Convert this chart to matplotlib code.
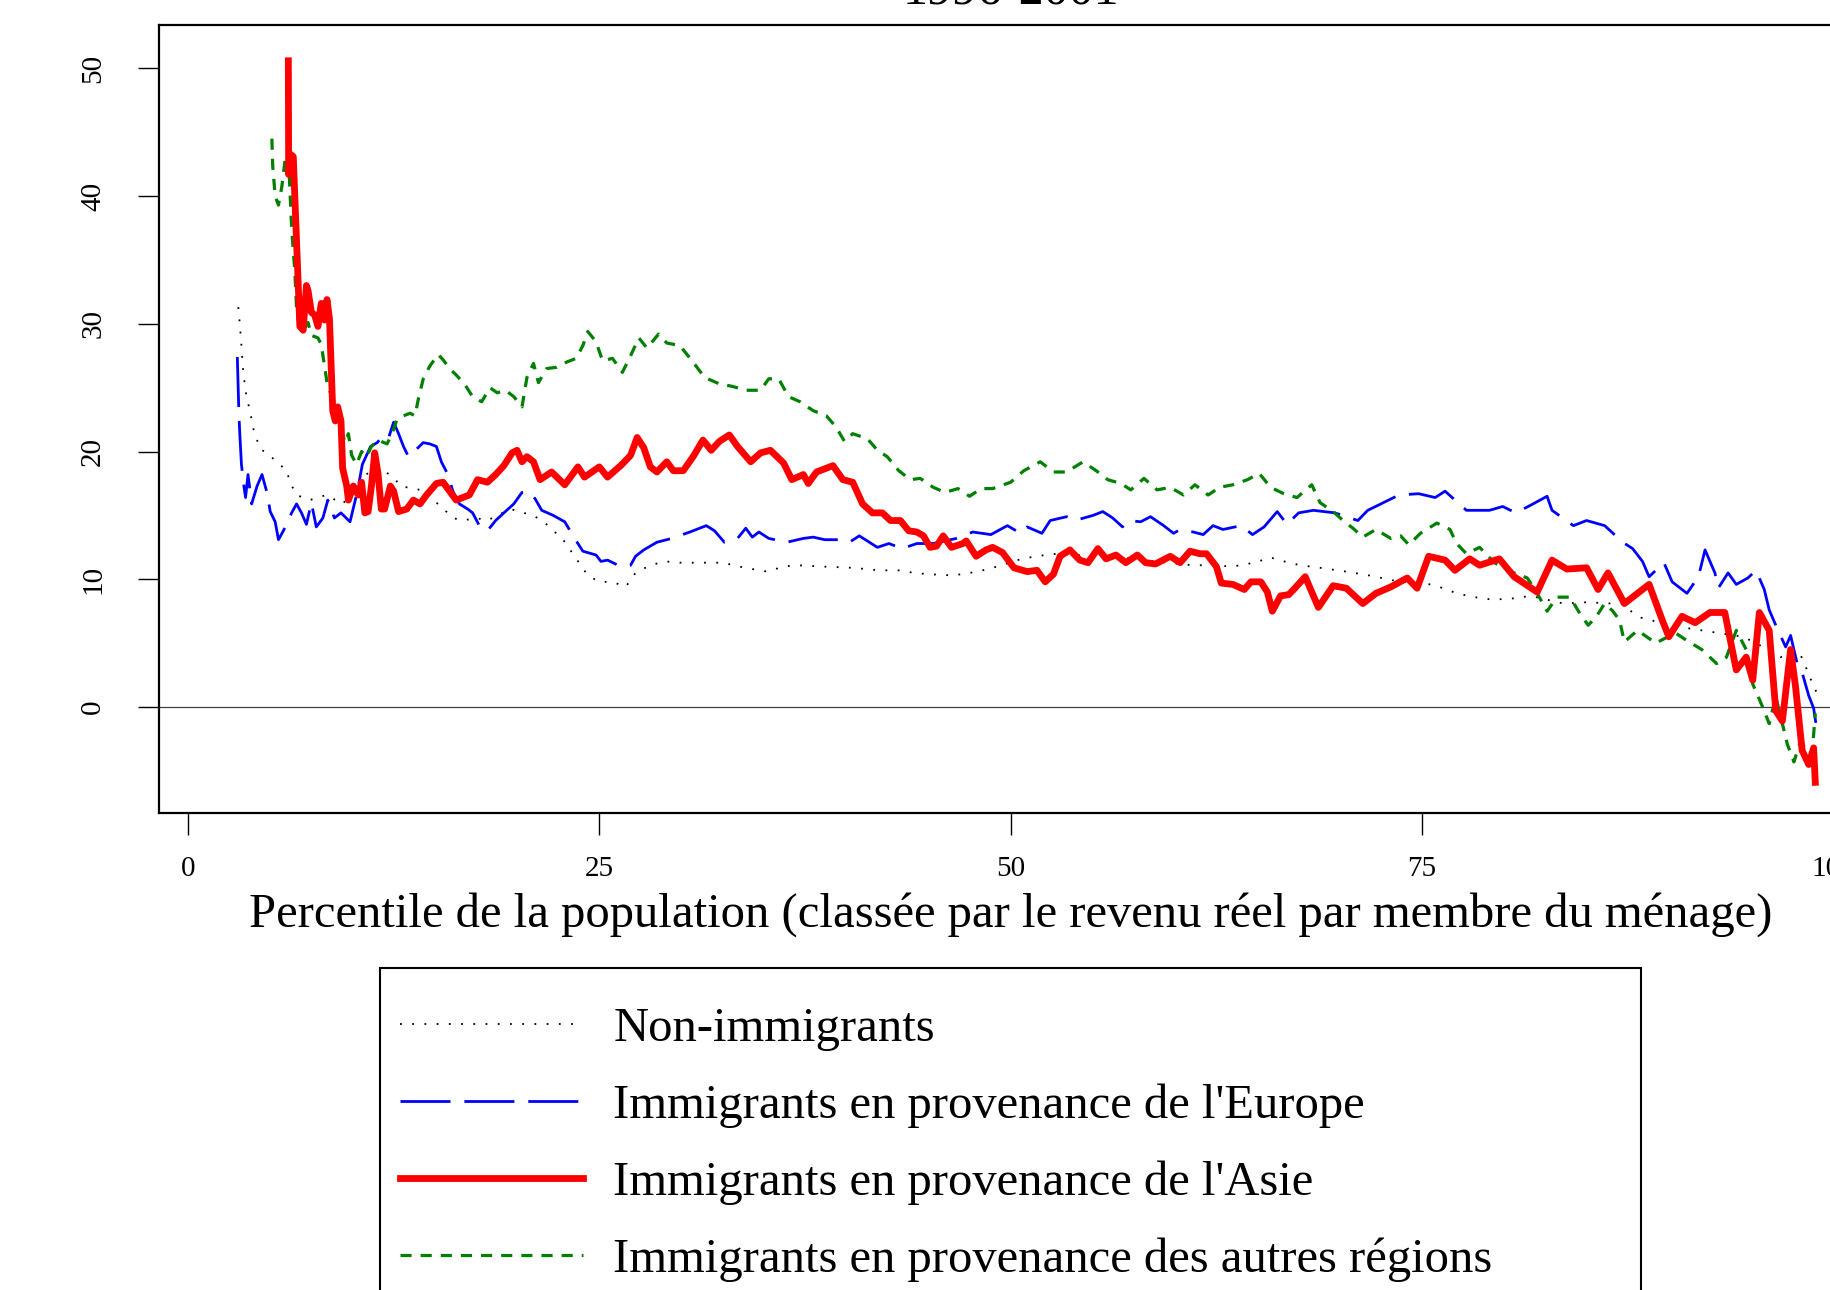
import matplotlib
matplotlib.use("Agg")
import matplotlib.pyplot as plt
from matplotlib.patches import Rectangle

# ---------------- data ----------------
title_text = "1996-2001"
xlabel_text = "Percentile de la population (classée par le revenu réel par membre du ménage)"
series_labels = ["Non-immigrants",
                 "Immigrants en provenance de l'Europe",
                 "Immigrants en provenance de l'Asie",
                 "Immigrants en provenance des autres régions"]
xticks = [0, 25, 50, 75, 100]
yticks = [0, 10, 20, 30, 40, 50]

non_x = [3.06, 3.15, 3.25, 3.35, 3.45, 3.57, 3.77, 3.97, 4.38, 4.78, 5.4, 6.0, 6.2, 6.6, 7.4, 8.4,
         9.4, 10.0, 10.6, 11.5, 12.5, 12.9, 13.7, 14.5, 15.1, 15.7, 16.1, 16.7, 17.5, 18.2, 18.8,
         19.6, 20.4, 21.0, 21.8, 22.8, 23.5, 24.3, 25.0, 25.8, 26.6, 27.2, 28.1, 29.0, 29.9, 31.0,
         32.5, 33.5, 34.3, 35.2, 36.2, 37.0, 38.5, 40.4, 42.0, 43.3, 44.1, 45.0, 46.5, 48.0, 49.2,
         50.4, 51.5, 52.8, 54.0, 55.4, 57.5, 59.5, 61.0, 62.1, 63.5, 64.8, 65.8, 66.9, 67.6, 68.8,
         70.4, 71.8, 73.3, 74.5, 75.5, 76.3, 77.1, 78.2, 79.3, 80.5, 81.6, 82.6, 83.6, 85.0, 86.6,
         87.1, 87.7, 88.3, 89.5, 91.0, 92.5, 93.5, 94.5, 95.3, 96.0, 96.8, 97.4, 98.0, 98.4, 98.8,
         99.0]
non_y = [31.3, 30.0, 28.3, 26.4, 25.3, 24.2, 23.2, 21.8, 20.2, 19.9, 19.2, 18.5, 17.6, 16.6, 16.2, 16.6,
         15.9, 16.8, 18.0, 18.8, 18.0, 17.3, 17.1, 16.9, 16.0, 15.3, 14.8, 14.6, 14.8, 14.6, 15.0,
         15.5, 15.2, 15.0, 14.3, 13.1, 11.8, 10.3, 9.8, 9.8, 9.4, 10.5, 11.1, 11.4, 11.3, 11.3,
         11.3, 11.0, 10.8, 10.6, 11.0, 11.1, 11.0, 10.9, 10.7, 10.7, 10.5, 10.4, 10.3, 10.6, 11.0,
         11.5, 11.8, 12.0, 11.9, 11.8, 11.6, 11.3, 11.1, 11.1, 11.0, 11.3, 11.7, 11.3, 11.1, 10.9,
         10.6, 10.3, 9.9, 9.7, 9.6, 9.3, 8.9, 8.6, 8.4, 8.5, 8.7, 8.4, 8.1, 8.2, 8.1,
         8.1, 7.5, 7.0, 6.6, 6.2, 5.9, 5.7, 5.5, 5.0, 4.5, 3.9, 4.4, 4.1, 2.9, 1.6,
         1.1]

eur_x = [3.0, 3.05, 3.1, 3.15, 3.25, 3.4, 3.5, 3.65, 3.87, 4.2, 4.5, 4.8, 5.0, 5.3, 5.5, 5.8, 6.1,
         6.3, 6.6, 6.9, 7.2, 7.5, 7.8, 8.2, 8.5, 8.9, 9.3, 9.85, 10.3, 10.6, 11.1, 11.5, 11.9, 12.2,
         12.5, 12.8, 13.1, 13.4, 13.9, 14.3, 14.7, 15.1, 15.4, 15.8, 16.1, 16.5, 17.0, 17.3, 17.75,
         18.2, 18.7, 19.2, 19.8, 20.3, 20.7, 21.1, 21.5, 22.2, 22.9, 23.5, 24.0, 24.8, 25.1, 25.5,
         26.3, 26.9, 27.2, 27.7, 28.5, 29.4, 30.5, 31.5, 32.0, 32.6, 33.4, 33.9, 34.3, 34.7, 35.3,
         36.4, 37.4, 38.0, 38.7, 39.6, 40.2, 40.8, 41.9, 42.6, 43.4, 44.3, 45.3, 46.7, 47.7, 48.8,
         49.8, 50.6, 51.0, 51.9, 52.4, 53.4, 53.9, 55.0, 55.6, 56.2, 56.8, 57.2, 57.9, 58.5, 59.3,
         59.9, 60.3, 61.1, 61.7, 62.3, 62.9, 64.0, 64.7, 65.4, 66.2, 66.8, 67.5, 68.4, 69.7, 71.1,
         71.7, 73.6, 74.8, 75.8, 76.4, 77.7, 79.1, 79.9, 80.7, 81.6, 82.6, 82.9, 84.2, 85.0, 86.1,
         87.2, 87.8, 88.4, 88.8, 89.7, 90.2, 91.1, 91.8, 92.2, 92.8, 93.0, 93.6, 94.1, 94.8, 95.3,
         95.8, 96.1, 96.5, 97.1, 97.4, 97.8, 98.1, 98.5, 98.8, 99.0]
eur_y = [27.4, 25.0, 22.8, 21.4, 19.0, 17.3, 16.4, 18.2, 15.9, 17.3, 18.2, 16.8, 15.3, 14.5, 13.1, 13.8, 14.6,
         15.2, 15.9, 15.2, 14.3, 16.0, 14.1, 14.8, 16.2, 14.8, 15.2, 14.5, 16.9, 19.0, 20.4, 20.7, 21.3, 21.1,
         22.3, 21.4, 20.4, 19.6, 20.2, 20.7, 20.6, 20.4, 19.2, 18.2, 16.9, 15.9, 15.5, 15.2, 14.1,
         13.8, 14.6, 15.2, 15.9, 16.8, 16.9, 16.3, 15.4, 15.0, 14.5, 13.2, 12.2, 11.9, 11.4, 11.5,
         11.0, 11.1, 11.8, 12.3, 12.9, 13.2, 13.7, 14.2, 13.8, 12.9, 13.2, 14.0, 13.3, 13.7, 13.2,
         12.9, 13.2, 13.3, 13.1, 13.1, 12.9, 13.4, 12.5, 12.8, 12.4, 12.8, 12.8, 13.2, 13.7, 13.5,
         14.2, 13.6, 14.1, 13.6, 14.6, 14.9, 14.6, 15.0, 15.3, 14.8, 14.1, 14.6, 14.5, 14.9, 14.2,
         13.6, 13.9, 13.7, 13.5, 14.2, 13.9, 14.2, 13.5, 14.1, 15.3, 14.3, 15.2, 15.4, 15.2, 14.6,
         15.4, 16.6, 16.7, 16.4, 16.9, 15.4, 15.4, 15.7, 15.2, 15.8, 16.5, 15.4, 14.2, 14.6, 14.2,
         12.9, 12.4, 11.4, 10.2, 11.3, 9.8, 8.9, 10.2, 12.3, 10.5, 9.3, 10.5, 9.6, 10.1, 10.7,
         9.2, 7.6, 6.4, 4.7, 5.6, 3.4, 2.7, 0.9, -0.1, -1.8]

asi_x = [6.1, 6.12, 6.2, 6.4, 6.6, 6.8, 7.0, 7.2, 7.3, 7.5, 7.7, 7.9, 8.1, 8.3, 8.45, 8.6, 8.8, 8.95,
         9.1, 9.3, 9.4, 9.65, 9.75, 10.05, 10.35, 10.55, 10.75, 10.95, 11.15, 11.35, 11.55, 11.75,
         11.95, 12.3, 12.5, 12.8, 13.3, 13.7, 14.1, 14.5, 15.1, 15.5, 15.9, 16.3, 16.7, 17.1, 17.6,
         18.2, 18.7, 19.2, 19.7, 20.0, 20.3, 20.6, 21.0, 21.4, 22.1, 22.9, 23.7, 24.1, 25.0, 25.5,
         26.3, 26.9, 27.3, 27.7, 28.1, 28.5, 29.1, 29.5, 30.1, 30.7, 31.3, 31.8, 32.3, 32.9, 33.4,
         34.2, 34.8, 35.4, 36.2, 36.7, 37.4, 37.7, 38.2, 39.2, 39.8, 40.4, 41.0, 41.6, 42.2, 42.7,
         43.3, 43.8, 44.3, 44.7, 45.1, 45.5, 45.9, 46.4, 47.1, 47.3, 47.9, 48.5, 48.9, 49.5, 50.2,
         51.0, 51.6, 52.1, 52.6, 53.0, 53.6, 54.2, 54.7, 55.3, 55.8, 56.4, 57.0, 57.7, 58.2, 58.8,
         59.7, 60.3, 60.9, 61.5, 61.9, 62.5, 62.8, 63.5, 64.2, 64.6, 65.2, 65.6, 65.9, 66.4, 66.9,
         67.2, 67.9, 68.7, 69.6, 70.4, 71.4, 72.2, 73.1, 74.1, 74.7, 75.4, 76.4, 77.0, 77.9, 78.5,
         79.7, 80.6, 82.0, 82.9, 83.8, 85.0, 85.7, 86.3, 87.3, 88.8, 89.6, 90.0, 90.8, 91.6, 92.5,
         93.4, 94.1, 94.7, 95.1, 95.5, 96.1, 96.5, 96.9, 97.4, 97.7, 98.1, 98.5, 98.8, 98.9]
asi_y = [50.6, 41.7, 43.3, 43.1, 36.5, 29.8, 29.5, 33.0, 32.6, 30.9, 30.7, 29.8, 31.6, 30.3, 31.9, 30.4, 23.2, 22.4,
         23.5, 22.4, 18.7, 17.3, 16.2, 17.3, 16.6, 17.6, 15.2, 15.3, 17.3, 19.9, 18.3, 15.5,
         15.5, 17.3, 16.9, 15.3, 15.5, 16.2, 15.9, 16.6, 17.5, 17.6, 16.9, 16.2, 16.4, 16.6, 17.8,
         17.6, 18.2, 18.9, 19.9, 20.1, 19.2, 19.6, 19.2, 17.8, 18.4, 17.4, 18.8, 18.0, 18.8, 18.0,
         18.9, 19.7, 21.1, 20.3, 18.8, 18.4, 19.2, 18.5, 18.5, 19.6, 20.9, 20.1, 20.8, 21.3, 20.4,
         19.2, 19.9, 20.1, 19.1, 17.8, 18.2, 17.5, 18.4, 18.9, 17.8, 17.6, 15.9, 15.2, 15.2, 14.6,
         14.6, 13.8, 13.7, 13.4, 12.5, 12.6, 13.4, 12.5, 12.8, 13.0, 11.8, 12.3, 12.5, 12.1, 10.9,
         10.6, 10.7, 9.8, 10.4, 11.8, 12.3, 11.5, 11.3, 12.4, 11.6, 11.9, 11.3, 11.9, 11.3, 11.2,
         11.8, 11.3, 12.2, 12.0, 12.0, 11.0, 9.7, 9.6, 9.2, 9.8, 9.8, 9.0, 7.5, 8.7, 8.8,
         9.2, 10.2, 7.8, 9.5, 9.3, 8.1, 8.9, 9.4, 10.1, 9.3, 11.8, 11.5, 10.7, 11.6, 11.1,
         11.6, 10.2, 9.0, 11.5, 10.8, 10.9, 9.2, 10.5, 8.1, 9.6, 6.8, 5.5, 7.1, 6.6, 7.4,
         7.4, 2.9, 3.9, 2.1, 7.4, 6.0, -0.3, -1.1, 4.5, 1.6, -3.4, -4.5, -3.2, -5.9]

aut_x = [5.1, 5.15, 5.3, 5.5, 5.7, 5.9, 6.1, 6.2, 6.3, 6.5, 6.6, 6.8, 7.1, 7.3, 7.5, 7.9, 8.1, 8.3,
         8.5, 8.8, 9.1, 9.3, 9.55, 9.75, 9.95, 10.25, 10.55, 10.85, 11.15, 11.55, 12.1, 12.4, 12.7,
         13.1, 13.5, 13.8, 14.0, 14.3, 14.7, 15.2, 15.5, 15.9, 16.3, 16.8, 17.3, 17.85, 18.35, 18.8,
         19.3, 19.8, 20.3, 20.6, 21.0, 21.3, 21.8, 22.4, 23.0, 23.6, 24.0, 24.3, 24.8, 25.2, 25.8,
         26.4, 26.9, 27.4, 27.9, 28.6, 29.1, 29.9, 30.7, 31.4, 32.3, 33.1, 33.9, 34.8, 35.3, 35.9,
         36.5, 37.2, 38.0, 38.8, 39.4, 39.9, 40.4, 41.3, 41.9, 42.5, 43.2, 43.9, 44.5, 45.3, 46.0,
         46.8, 47.5, 48.2, 48.9, 50.0, 50.8, 51.8, 52.6, 53.4, 54.4, 55.2, 55.9, 56.7, 57.3, 58.1,
         58.9, 59.7, 60.5, 61.2, 62.0, 62.7, 63.5, 64.4, 65.1, 65.8, 66.6, 67.4, 68.3, 68.8, 69.6,
         70.2, 70.8, 71.4, 72.2, 73.1, 73.7, 74.2, 74.9, 75.9, 76.7, 77.1, 77.7, 78.5, 79.4, 80.4,
         81.4, 82.0, 82.6, 83.2, 84.0, 84.6, 85.1, 85.6, 86.1, 86.6, 87.0, 87.3, 88.1, 89.2, 90.4,
         91.1, 92.0, 92.9, 93.5, 94.1, 94.7, 95.1, 95.7, 96.1, 96.5, 97.2, 97.6, 98.0, 98.4, 98.7,
         98.9]
aut_y = [44.5, 42.4, 40.0, 39.3, 40.7, 42.8, 43.3, 40.3, 37.5, 34.0, 31.2, 29.5, 29.7, 30.1, 29.1, 28.9, 28.4, 26.7,
         25.0, 24.3, 22.8, 21.8, 20.7, 21.4, 19.7, 19.0, 20.0, 19.6, 20.4, 20.9, 20.6, 21.4, 22.5,
         22.8, 23.0, 22.8, 24.1, 25.7, 26.7, 27.6, 27.2, 26.5, 26.0, 25.3, 24.3, 23.9, 25.0, 24.6,
         24.8, 24.3, 23.5, 25.8, 26.9, 25.4, 26.5, 26.6, 27.0, 27.3, 28.3, 29.4, 28.6, 27.1, 27.3,
         26.2, 27.5, 28.9, 28.1, 29.2, 28.5, 28.3, 27.0, 25.8, 25.3, 25.1, 24.8, 24.8, 25.7, 25.7,
         24.3, 23.9, 23.2, 22.8, 21.9, 20.8, 21.4, 21.0, 20.1, 19.6, 18.5, 17.8, 17.9, 17.2, 16.8,
         17.1, 16.5, 17.1, 17.1, 17.6, 18.5, 19.2, 18.4, 18.4, 19.2, 18.5, 17.8, 17.5, 17.0, 17.9,
         17.0, 17.2, 16.6, 17.4, 16.6, 17.2, 17.4, 17.8, 18.3, 17.2, 16.7, 16.4, 17.4, 16.0, 15.3,
         14.6, 14.0, 13.3, 13.9, 13.2, 13.4, 12.7, 13.6, 14.4, 13.9, 12.8, 12.0, 12.5, 11.3, 10.6,
         10.1, 8.9, 7.5, 8.6, 8.6, 7.3, 6.4, 7.1, 8.1, 7.5, 6.8, 5.1, 6.0, 5.0, 5.8,
         5.2, 4.5, 3.4, 3.9, 6.0, 4.5, 1.8, 0.0, -1.3, 0.8, -2.9, -4.3, -2.7, -3.4, -3.8,
         -0.5]

# ---------------- figure ----------------
plt.rcParams['font.family'] = ['Liberation Serif', 'DejaVu Serif']
plt.rcParams['lines.scale_dashes'] = False

W, H = 1830, 1290
fig = plt.figure(figsize=(W / 100, H / 100), dpi=100)
ax = fig.add_axes([159 / W, 1 - 813 / H, (1863 - 159) / W, (813 - 25) / H])

ax.axhline(0, color='#404040', lw=0.9, zorder=1)
ax.plot(non_x, non_y, color='black', lw=1.3, ls=(0, (1.3, 7.5)), label=series_labels[0], zorder=3)
ax.plot(eur_x, eur_y, color='#0000FF', lw=2.0, ls=(0, (36, 10)), label=series_labels[1], zorder=3)
ax.plot(asi_x, asi_y, color='#FF0000', lw=4.9, ls='-', label=series_labels[2], zorder=4,
        solid_joinstyle='round')
ax.plot(aut_x, aut_y, color='#008000', lw=2.3, ls=(0, (8, 6.5)), label=series_labels[3], zorder=3)

ax.set_xlim(-1.76, 101.8)
ax.set_ylim(-8.3, 53.4)
ax.set_xticks(xticks)
ax.set_yticks(yticks)
ax.tick_params(axis='x', length=16, width=1.0, pad=15, labelsize=21)
ax.tick_params(axis='y', length=15, width=1.0, pad=23, labelsize=21, labelrotation=90)
for lbl in ax.get_yticklabels():
    lbl.set_verticalalignment('center')
for s in ax.spines.values():
    s.set_linewidth(1.6)

ax.set_xlabel(xlabel_text, fontsize=35)
ax.xaxis.set_label_coords(0.5, -0.100)

fig.text(1011 / W, 1 - 4 / H, title_text, ha='center', va='baseline', fontsize=36)

# legend frame drawn as a box reaching past the bottom edge (as in the reference)
fig.patches.append(Rectangle((380 / W, -0.05), (1641 - 380) / W, (1290 - 968) / H + 0.05,
                             transform=fig.transFigure, facecolor='white',
                             edgecolor='black', lw=1.5, zorder=0))
leg = fig.legend(loc='upper left', bbox_to_anchor=(400 / W, 1 - 1007 / H),
                 fontsize=35, frameon=False, handlelength=3.77,
                 handletextpad=0.62, labelspacing=0.67, borderpad=0.0,
                 borderaxespad=0.0)

fig.savefig('out.png', dpi=100)
